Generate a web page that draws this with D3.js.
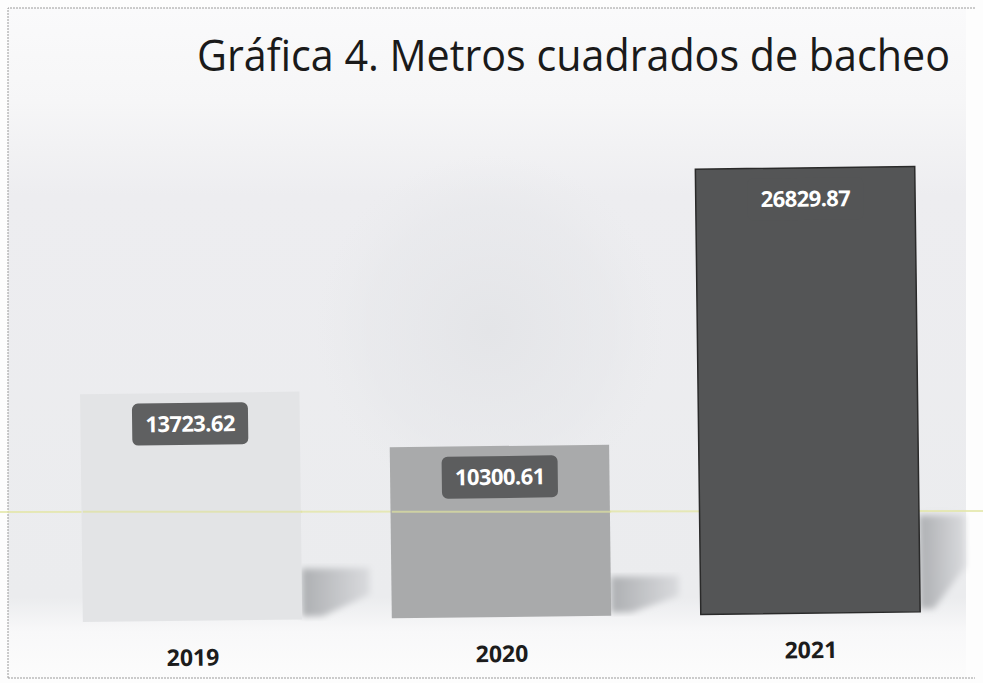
<!DOCTYPE html>
<html>
<head>
<meta charset="utf-8">
<script src="https://cdn.jsdelivr.net/npm/d3@7"></script>
<style>
  body { margin: 0; background: #fdfdfd; }
  svg { display: block; }
</style>
</head>
<body>
<div id="chart"></div>
<script>
const width = 983,
      height = 683;

// data
const years = ["2019", "2020", "2021"];
const metros = [13723.62, 10300.61, 26829.87];
const labels = ["13723.62", "10300.61", "26829.87"];

const barColors = ["#e3e4e6", "#a9aaab", "#545556"];
const boxColors = ["#5f6061", "#5c5d5e", "#545556"];

const svg = d3.select("#chart")
  .append("svg")
    .attr("width", width)
    .attr("height", height);

const defs = svg.append("defs");

const bg = defs.append("linearGradient")
    .attr("id", "bg")
    .attr("x1", 0).attr("y1", 0).attr("x2", 0).attr("y2", 1);
bg.append("stop").attr("offset", "0%").attr("stop-color", "#fafafb");
bg.append("stop").attr("offset", "14%").attr("stop-color", "#f6f6f7");
bg.append("stop").attr("offset", "28%").attr("stop-color", "#ededf0");
bg.append("stop").attr("offset", "88%").attr("stop-color", "#ebecee");
bg.append("stop").attr("offset", "93%").attr("stop-color", "#f8f8f9");
bg.append("stop").attr("offset", "100%").attr("stop-color", "#fcfcfc");

const glow = defs.append("radialGradient")
    .attr("id", "glow");
glow.append("stop").attr("offset", "0%").attr("stop-color", "#e3e4e7").attr("stop-opacity", 0.9);
glow.append("stop").attr("offset", "70%").attr("stop-color", "#e6e7ea").attr("stop-opacity", 0.5);
glow.append("stop").attr("offset", "100%").attr("stop-color", "#e9eaec").attr("stop-opacity", 0);

const shade = defs.append("linearGradient")
    .attr("id", "shade")
    .attr("x1", 0).attr("y1", 0).attr("x2", 1).attr("y2", 0);
shade.append("stop").attr("offset", "0%").attr("stop-color", "#adafb2");
shade.append("stop").attr("offset", "100%").attr("stop-color", "#dadbde");

defs.append("filter").attr("id", "blur")
  .append("feGaussianBlur").attr("stdDeviation", 3);

// background of the chart area
svg.append("rect")
    .attr("x", 8).attr("y", 8)
    .attr("width", 958).attr("height", 670)
    .attr("fill", "url(#bg)");

svg.append("circle")
    .attr("cx", 490).attr("cy", 330).attr("r", 175)
    .attr("fill", "url(#glow)");

// scanned border
svg.append("path")
    .attr("d", "M8,678 L8,8 L975,8 M8,678 L975,678")
    .attr("fill", "none")
    .attr("stroke", "#9a9a9a")
    .attr("stroke-width", 1)
    .attr("stroke-dasharray", "2,1");

// Title
const title = svg.append("text")
    .attr("x", 197)
    .attr("y", 71)
    .style("font-family", "Open Sans, sans-serif")
    .style("font-size", "43px")
    .style("fill", "#1a1a1a")
    .text("Gráfica 4. Metros cuadrados de bacheo");
if (title.node().getComputedTextLength() > 753) {
  title.attr("textLength", 753).attr("lengthAdjust", "spacingAndGlyphs");
}

const x = d3.scaleBand()
    .domain(years)
    .range([38, 965])
    .paddingInner(0.29)
    .paddingOuter(0.145);

const y = d3.scaleLinear()
    .domain([0, 30000])
    .range([617, 617 - 0.0166 * 30000]);

const data = years.map((yr, i) => ({year: yr, value: metros[i], label: labels[i], i: i}));

const tilt = "rotate(-0.7,500,617)";

// shadows behind bars
const back = svg.append("g").attr("transform", tilt);
back.selectAll(".shadow")
  .data(data)
  .enter()
  .append("path")
    .attr("class", "shadow")
    .attr("fill", "url(#shade)")
    .attr("filter", "url(#blur)")
    .attr("d", d => {
      const x0 = x(d.year) + x.bandwidth();
      const h = (y(0) - y(d.value)) * 0.21;
      const w = Math.min(68, 966 - x0);
      const b = y(0) - 3;
      return "M" + x0 + "," + (b - h) + " L" + (x0 + w) + "," + (b - h) +
             " L" + (x0 + w) + "," + (b - h * 0.45) +
             " L" + (x0 + w * 0.3) + "," + b + " L" + x0 + "," + b + "Z";
    });

// yellow scan streak
svg.append("line")
    .attr("x1", 0).attr("x2", 983)
    .attr("y1", 512).attr("y2", 511)
    .attr("stroke", "#e4e7a8")
    .attr("stroke-width", 2)
    .attr("opacity", 0.8);

// bars
const chart = svg.append("g").attr("transform", tilt);
chart.selectAll(".bar")
  .data(data)
  .enter()
  .append("rect")
    .attr("class", "bar")
    .attr("x", d => x(d.year))
    .attr("y", d => y(d.value))
    .attr("width", x.bandwidth())
    .attr("height", d => y(0) - y(d.value))
    .attr("fill", d => barColors[d.i])
    .attr("stroke", d => d.i === 2 ? "#2a2a2a" : "none")
    .attr("stroke-width", 1.5);

// streak seen through the lighter bars
svg.selectAll(".streak")
  .data(data.filter(d => d.i < 2))
  .enter()
  .append("line")
    .attr("class", "streak")
    .attr("x1", d => x(d.year))
    .attr("x2", d => x(d.year) + x.bandwidth())
    .attr("y1", 511.7)
    .attr("y2", 511.7)
    .attr("stroke", "#dfe2a0")
    .attr("stroke-width", 2)
    .attr("opacity", 0.7);

// value boxes
const front = svg.append("g").attr("transform", tilt);
front.selectAll(".box")
  .data(data)
  .enter()
  .append("rect")
    .attr("class", "box")
    .attr("x", d => x(d.year) + x.bandwidth() / 2 - 58)
    .attr("y", d => y(d.value) + 10)
    .attr("width", 116)
    .attr("height", 42)
    .attr("rx", 6)
    .attr("fill", d => boxColors[d.i]);

front.selectAll(".val")
  .data(data)
  .enter()
  .append("text")
    .attr("class", "val")
    .attr("x", d => x(d.year) + x.bandwidth() / 2)
    .attr("y", d => y(d.value) + 31)
    .attr("dy", "0.35em")
    .attr("text-anchor", "middle")
    .style("font-family", "Open Sans, sans-serif")
    .style("font-weight", "bold")
    .style("font-size", "22px")
    .style("fill", "#ffffff")
    .style("letter-spacing", "-0.6px")
    .text(d => d.label);

// year labels
front.selectAll(".yr")
  .data(data)
  .enter()
  .append("text")
    .attr("class", "yr")
    .attr("x", d => x(d.year) + x.bandwidth() / 2)
    .attr("y", 662)
    .attr("text-anchor", "middle")
    .style("font-family", "Open Sans, sans-serif")
    .style("font-weight", "bold")
    .style("font-size", "23px")
    .style("fill", "#1c1c1c")
    .text(d => d.year);
</script>
</body>
</html>
